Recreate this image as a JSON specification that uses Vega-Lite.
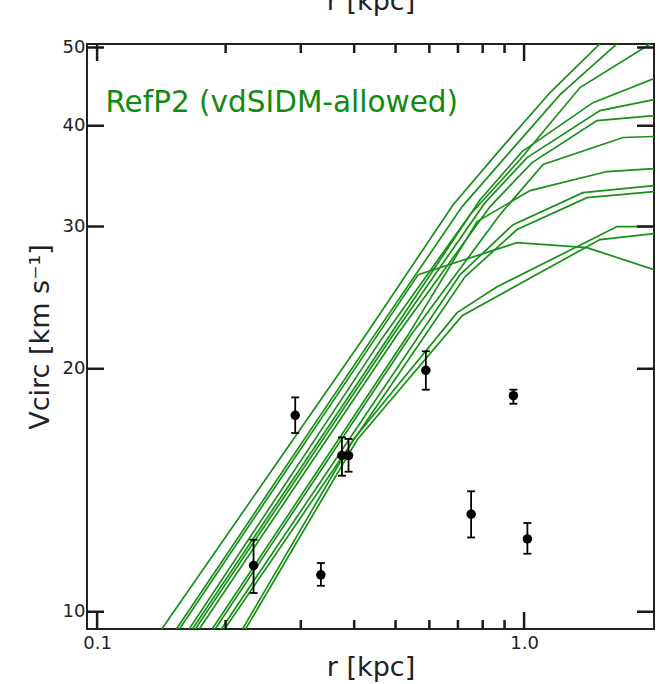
{
  "$schema": "https://vega.github.io/schema/vega-lite/v6.json",
  "width": 567,
  "height": 585,
  "autosize": {"type": "none"},
  "padding": {"left": 87, "top": 44, "right": 6, "bottom": 55},
  "background": "white",
  "config": {
    "view": {"stroke": "#222", "strokeWidth": 2},
    "font": "DejaVu Sans",
    "axis": {
      "domain": false, "grid": false, "ticks": false,
      "labelColor": "#222", "labelFont": "DejaVu Sans", "labelFontSize": 18,
      "titleFont": "DejaVu Sans", "titleFontWeight": "normal", "titleColor": "#222",
      "titleFontSize": 27, "labelFlush": false, "labelOverlap": false
    }
  },
  "datasets": {
    "lines": [
      {"id": "A", "r": 0.1311, "v": 8.97}, {"id": "A", "r": 0.4291, "v": 22.16}, {"id": "A", "r": 0.6822, "v": 31.93}, {"id": "A", "r": 0.8787, "v": 37.36}, {"id": "A", "r": 1.1505, "v": 43.97}, {"id": "A", "r": 1.506, "v": 50.55}, {"id": "A", "r": 1.770, "v": 54.47},
      {"id": "B", "r": 0.1422, "v": 8.97}, {"id": "B", "r": 0.4552, "v": 22.36}, {"id": "B", "r": 0.7161, "v": 31.76}, {"id": "B", "r": 0.9274, "v": 37.15}, {"id": "B", "r": 1.2141, "v": 43.71}, {"id": "B", "r": 1.651, "v": 50.55}, {"id": "B", "r": 1.868, "v": 53.84},
      {"id": "C", "r": 0.1525, "v": 8.97}, {"id": "C", "r": 0.4627, "v": 21.73}, {"id": "C", "r": 0.7475, "v": 31.05}, {"id": "C", "r": 0.9787, "v": 36.32}, {"id": "C", "r": 1.352, "v": 44.60}, {"id": "C", "r": 2.015, "v": 50.85},
      {"id": "D", "r": 0.1550, "v": 8.97}, {"id": "D", "r": 0.4858, "v": 22.03}, {"id": "D", "r": 0.7889, "v": 32.39}, {"id": "D", "r": 0.9893, "v": 37.15}, {"id": "D", "r": 1.450, "v": 42.72}, {"id": "D", "r": 2.015, "v": 45.77},
      {"id": "E", "r": 0.1575, "v": 8.97}, {"id": "E", "r": 0.4937, "v": 22.03}, {"id": "E", "r": 0.8102, "v": 32.12}, {"id": "E", "r": 1.0163, "v": 36.52}, {"id": "E", "r": 1.506, "v": 41.76}, {"id": "E", "r": 2.015, "v": 43.10},
      {"id": "F", "r": 0.1609, "v": 8.97}, {"id": "F", "r": 0.5045, "v": 22.03}, {"id": "F", "r": 0.8325, "v": 31.76}, {"id": "F", "r": 1.0441, "v": 36.01}, {"id": "F", "r": 1.482, "v": 40.59}, {"id": "F", "r": 2.015, "v": 41.18},
      {"id": "G", "r": 0.1754, "v": 8.97}, {"id": "G", "r": 0.5439, "v": 22.03}, {"id": "G", "r": 0.8787, "v": 31.05}, {"id": "G", "r": 1.1078, "v": 35.81}, {"id": "G", "r": 1.705, "v": 38.68}, {"id": "G", "r": 2.015, "v": 38.79},
      {"id": "H", "r": 0.1726, "v": 8.97}, {"id": "H", "r": 0.5353, "v": 22.03}, {"id": "H", "r": 0.7762, "v": 30.43}, {"id": "H", "r": 1.0329, "v": 33.24}, {"id": "H", "r": 1.564, "v": 35.10}, {"id": "H", "r": 2.015, "v": 35.40},
      {"id": "I", "r": 0.1812, "v": 8.97}, {"id": "I", "r": 0.7084, "v": 26.16}, {"id": "I", "r": 0.9425, "v": 30.17}, {"id": "I", "r": 1.374, "v": 33.05}, {"id": "I", "r": 2.015, "v": 33.72},
      {"id": "J", "r": 0.1842, "v": 8.97}, {"id": "J", "r": 0.7278, "v": 26.01}, {"id": "J", "r": 0.9630, "v": 29.75}, {"id": "J", "r": 1.404, "v": 32.58}, {"id": "J", "r": 2.015, "v": 33.14},
      {"id": "K", "r": 0.2051, "v": 8.97}, {"id": "K", "r": 0.3979, "v": 16.33}, {"id": "K", "r": 0.6970, "v": 23.47}, {"id": "K", "r": 0.8647, "v": 25.27}, {"id": "K", "r": 1.651, "v": 30.00}, {"id": "K", "r": 2.015, "v": 30.00},
      {"id": "L", "r": 0.2084, "v": 8.97}, {"id": "L", "r": 0.4066, "v": 16.33}, {"id": "L", "r": 0.7161, "v": 23.27}, {"id": "L", "r": 1.506, "v": 28.91}, {"id": "L", "r": 2.015, "v": 29.41},
      {"id": "M", "r": 0.1445, "v": 8.97}, {"id": "M", "r": 0.5650, "v": 26.16}, {"id": "M", "r": 0.9630, "v": 28.65}, {"id": "M", "r": 1.404, "v": 28.25}, {"id": "M", "r": 2.015, "v": 26.53}
    ],
    "obs": [
      {"r": 0.2325, "v": 11.41, "lo": 10.55, "hi": 12.28},
      {"r": 0.2911, "v": 17.51, "lo": 16.65, "hi": 18.43},
      {"r": 0.3343, "v": 11.11, "lo": 10.77, "hi": 11.49},
      {"r": 0.3745, "v": 15.62, "lo": 14.74, "hi": 16.44},
      {"r": 0.3880, "v": 15.61, "lo": 14.91, "hi": 16.37},
      {"r": 0.5888, "v": 19.91, "lo": 18.84, "hi": 21.02},
      {"r": 0.9440, "v": 18.52, "lo": 18.10, "hi": 18.84},
      {"r": 0.7516, "v": 13.21, "lo": 12.36, "hi": 14.10},
      {"r": 1.0180, "v": 12.31, "lo": 11.80, "hi": 12.88}
    ],
    "label": [
      {"r": 0.1046, "v": 41.65, "t": "RefP2 (vdSIDM-allowed)"}
    ],
    "xmajor": [{"r": 0.1}, {"r": 1.0}],
    "xminor": [{"r": 0.2}, {"r": 0.3}, {"r": 0.4}, {"r": 0.5}, {"r": 0.6}, {"r": 0.7}, {"r": 0.8}, {"r": 0.9}],
    "ymajor": [{"v": 10}, {"v": 20}, {"v": 30}, {"v": 40}, {"v": 50}]
  },
  "layer": [
    {
      "data": {"name": "lines"},
      "mark": {"type": "line", "clip": true, "color": "#179017", "strokeWidth": 1.7},
      "encoding": {
        "x": {"field": "r", "type": "quantitative",
              "scale": {"type": "log", "domain": [0.0947, 2.015], "nice": false},
              "axis": {"orient": "bottom", "values": [0.1, 1], "format": ".1f", "labelPadding": 5,
                       "title": "r [kpc]", "titleY": 46.7, "titleBaseline": "alphabetic"}},
        "y": {"field": "v", "type": "quantitative",
              "scale": {"type": "log", "domain": [9.52, 50.5], "nice": false},
              "axis": {"orient": "left", "values": [10, 20, 30, 40, 50], "format": "d", "labelPadding": 2,
                       "title": "Vcirc [km s⁻¹]", "titleX": -39, "titleY": 292.5, "titleAngle": -90,
                       "titleBaseline": "alphabetic", "titleAlign": "center"}},
        "detail": {"field": "id"}
      }
    },
    {
      "data": {"name": "xmajor"},
      "mark": {"type": "tick", "orient": "vertical", "clip": true, "color": "#1a1a1a", "size": 34, "thickness": 2.5, "opacity": 1},
      "encoding": {
        "x": {"field": "r", "type": "quantitative",
              "scale": {"type": "log", "domain": [0.0947, 2.015], "nice": false},
              "axis": {"orient": "top", "labels": false, "title": "r [kpc]", "titleY": -35, "titleBaseline": "alphabetic"}},
        "y": {"datum": 9.52, "type": "quantitative",
              "scale": {"type": "log", "domain": [9.52, 50.5], "nice": false}, "axis": null}
      }
    },
    {
      "data": {"name": "xmajor"},
      "mark": {"type": "tick", "orient": "vertical", "clip": true, "color": "#1a1a1a", "size": 34, "thickness": 2.5, "opacity": 1},
      "encoding": {
        "x": {"field": "r", "type": "quantitative",
              "scale": {"type": "log", "domain": [0.0947, 2.015], "nice": false}, "axis": null},
        "y": {"datum": 50.5, "type": "quantitative",
              "scale": {"type": "log", "domain": [9.52, 50.5], "nice": false}, "axis": null}
      }
    },
    {
      "data": {"name": "xminor"},
      "mark": {"type": "tick", "orient": "vertical", "clip": true, "color": "#1a1a1a", "size": 18, "thickness": 2.5, "opacity": 1},
      "encoding": {
        "x": {"field": "r", "type": "quantitative",
              "scale": {"type": "log", "domain": [0.0947, 2.015], "nice": false}, "axis": null},
        "y": {"datum": 9.52, "type": "quantitative",
              "scale": {"type": "log", "domain": [9.52, 50.5], "nice": false}, "axis": null}
      }
    },
    {
      "data": {"name": "xminor"},
      "mark": {"type": "tick", "orient": "vertical", "clip": true, "color": "#1a1a1a", "size": 18, "thickness": 2.5, "opacity": 1},
      "encoding": {
        "x": {"field": "r", "type": "quantitative",
              "scale": {"type": "log", "domain": [0.0947, 2.015], "nice": false}, "axis": null},
        "y": {"datum": 50.5, "type": "quantitative",
              "scale": {"type": "log", "domain": [9.52, 50.5], "nice": false}, "axis": null}
      }
    },
    {
      "data": {"name": "ymajor"},
      "mark": {"type": "tick", "orient": "horizontal", "clip": true, "color": "#1a1a1a", "size": 34, "thickness": 2.5, "opacity": 1},
      "encoding": {
        "x": {"datum": 0.0947, "type": "quantitative",
              "scale": {"type": "log", "domain": [0.0947, 2.015], "nice": false}, "axis": null},
        "y": {"field": "v", "type": "quantitative",
              "scale": {"type": "log", "domain": [9.52, 50.5], "nice": false}, "axis": null}
      }
    },
    {
      "data": {"name": "ymajor"},
      "mark": {"type": "tick", "orient": "horizontal", "clip": true, "color": "#1a1a1a", "size": 34, "thickness": 2.5, "opacity": 1},
      "encoding": {
        "x": {"datum": 2.015, "type": "quantitative",
              "scale": {"type": "log", "domain": [0.0947, 2.015], "nice": false}, "axis": null},
        "y": {"field": "v", "type": "quantitative",
              "scale": {"type": "log", "domain": [9.52, 50.5], "nice": false}, "axis": null}
      }
    },
    {
      "data": {"name": "obs"},
      "mark": {"type": "rule", "color": "black", "strokeWidth": 1.8},
      "encoding": {
        "x": {"field": "r", "type": "quantitative",
              "scale": {"type": "log", "domain": [0.0947, 2.015], "nice": false}, "axis": null},
        "y": {"field": "lo", "type": "quantitative",
              "scale": {"type": "log", "domain": [9.52, 50.5], "nice": false}, "axis": null},
        "y2": {"field": "hi"}
      }
    },
    {
      "data": {"name": "obs"},
      "mark": {"type": "tick", "orient": "horizontal", "color": "black", "size": 8, "thickness": 1.8, "opacity": 1},
      "encoding": {
        "x": {"field": "r", "type": "quantitative",
              "scale": {"type": "log", "domain": [0.0947, 2.015], "nice": false}, "axis": null},
        "y": {"field": "lo", "type": "quantitative",
              "scale": {"type": "log", "domain": [9.52, 50.5], "nice": false}, "axis": null}
      }
    },
    {
      "data": {"name": "obs"},
      "mark": {"type": "tick", "orient": "horizontal", "color": "black", "size": 8, "thickness": 1.8, "opacity": 1},
      "encoding": {
        "x": {"field": "r", "type": "quantitative",
              "scale": {"type": "log", "domain": [0.0947, 2.015], "nice": false}, "axis": null},
        "y": {"field": "hi", "type": "quantitative",
              "scale": {"type": "log", "domain": [9.52, 50.5], "nice": false}, "axis": null}
      }
    },
    {
      "data": {"name": "obs"},
      "mark": {"type": "point", "shape": "circle", "filled": true, "color": "black", "size": 90, "opacity": 1},
      "encoding": {
        "x": {"field": "r", "type": "quantitative",
              "scale": {"type": "log", "domain": [0.0947, 2.015], "nice": false}, "axis": null},
        "y": {"field": "v", "type": "quantitative",
              "scale": {"type": "log", "domain": [9.52, 50.5], "nice": false}, "axis": null}
      }
    },
    {
      "data": {"name": "label"},
      "mark": {"type": "text", "align": "left", "baseline": "alphabetic", "fontSize": 29.5, "font": "DejaVu Sans", "color": "#118a11"},
      "encoding": {
        "x": {"field": "r", "type": "quantitative",
              "scale": {"type": "log", "domain": [0.0947, 2.015], "nice": false}, "axis": null},
        "y": {"field": "v", "type": "quantitative",
              "scale": {"type": "log", "domain": [9.52, 50.5], "nice": false}, "axis": null},
        "text": {"field": "t"}
      }
    }
  ],
  "resolve": {"axis": {"x": "independent", "y": "independent"}}
}
